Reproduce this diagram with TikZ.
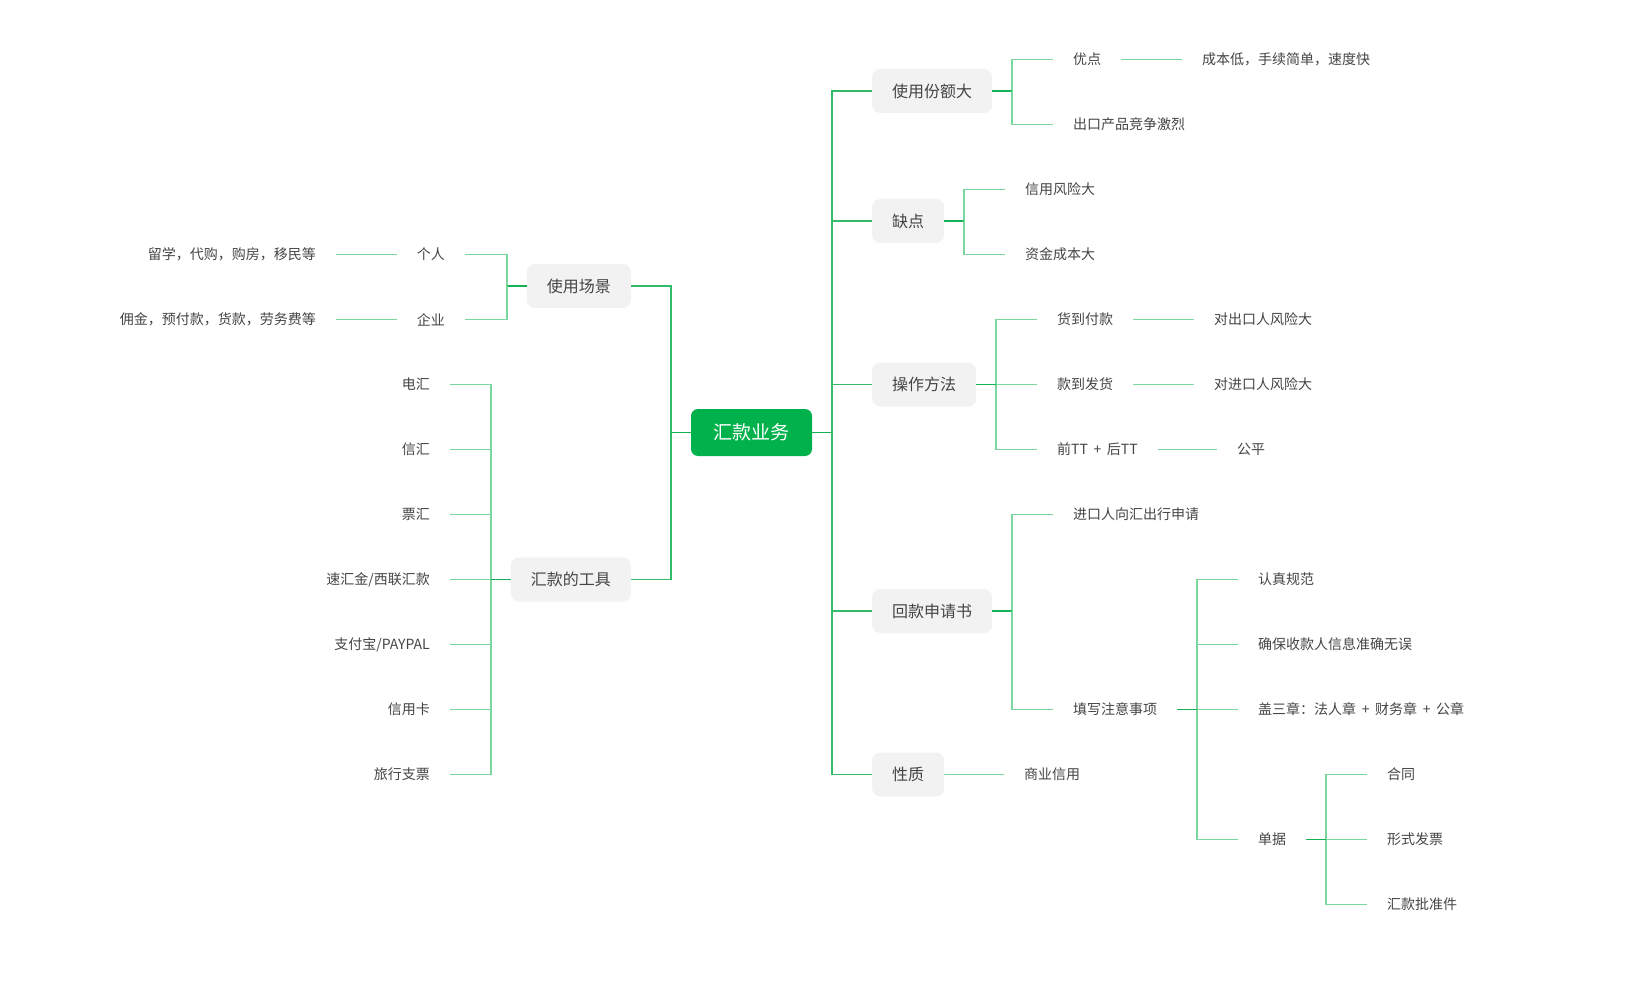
\documentclass[tikz,border=0pt]{standalone}
\usepackage{fontspec}
\setmainfont{Noto Sans CJK SC}
\usepackage{tikz}
\usetikzlibrary{calc}
\definecolor{rootgreen}{RGB}{0,177,76}
\definecolor{stemgreen}{RGB}{20,178,84}
\definecolor{trunkgreen}{RGB}{50,188,106}
\definecolor{twiggreen}{RGB}{122,214,156}
\definecolor{topicgray}{RGB}{242,242,242}
\definecolor{labeltext}{RGB}{68,68,68}
\newcommand{\plusgap}{\hspace{0.4em}+\hspace{0.4em}}
\newcommand{\leafright}[4]{%
  \node[leaf,anchor=west] (#1) at (#2,59.5+65*#3) {#4};%
}
\newcommand{\leafleft}[4]{%
  \node[leaf,anchor=east] (#1) at (#2,59.5+65*#3) {#4};%
}
\newcommand{\forkright}[3][twigline]{%
  \draw[stemline] (#2.east) -- ++(20,0);%
  \draw[#1] ($(#2.east)+(20,0)$) |- (#3.west);%
}
\newcommand{\forkleft}[3][twigline]{%
  \draw[stemline] (#2.west) -- ++(-20,0);%
  \draw[#1] ($(#2.west)+(-20,0)$) |- (#3.east);%
}

\begin{document}
\begin{tikzpicture}[x=1pt,y=-1pt,
    rootbox/.style={fill=rootgreen,rounded corners=7pt,text=white,font=\fontsize{19}{22}\selectfont,minimum width=121pt,minimum height=47pt,inner sep=0pt},
    topicbox/.style={fill=topicgray,rounded corners=8pt,text=labeltext,font=\fontsize{16}{19}\selectfont,inner xsep=20pt,inner ysep=0pt,minimum height=44pt},
    leaf/.style={text=labeltext,font=\fontsize{14}{17}\selectfont,inner xsep=20pt,inner ysep=2pt},
    stemline/.style={draw=stemgreen,line width=1.8pt},
    trunkline/.style={draw=trunkgreen,line width=1.9pt},
    twigline/.style={draw=twiggreen,line width=1.9pt}]
  \useasboundingbox (0,0) rectangle (1634,1003);
  \node[rootbox] (root) at (751.5,432.5) {汇款业务};
  \node[topicbox,anchor=west] (share) at (872,91) {使用份额大};
  \node[topicbox,anchor=west] (cons) at (872,221) {缺点};
  \node[topicbox,anchor=west] (method) at (872,384.5) {操作方法};
  \node[topicbox,anchor=west] (form) at (872,611) {回款申请书};
  \node[topicbox,anchor=west] (nature) at (872,774.5) {性质};
  \node[topicbox,anchor=east] (scene) at (631,286) {使用场景};
  \node[topicbox,anchor=east] (tools) at (631,579.5) {汇款的工具};
  \foreach \t in {share,cons,method,form,nature} \forkright[trunkline]{root}{\t};
  \foreach \t in {scene,tools} \forkleft[trunkline]{root}{\t};
  \leafright{pros}{1053}{0}{优点}
  \leafright{prosd}{1182}{0}{成本低，手续简单，速度快}
  \leafright{compet}{1053}{1}{出口产品竞争激烈}
  \forkright{share}{pros}
  \forkright{share}{compet}
  \draw[twigline] (pros.east) -- (prosd.west);
  \leafright{risk}{1005}{2}{信用风险大}
  \leafright{cost}{1005}{3}{资金成本大}
  \forkright{cons}{risk}
  \forkright{cons}{cost}
  \leafright{cod}{1037}{4}{货到付款}
  \leafright{codr}{1194}{4}{对出口人风险大}
  \leafright{cia}{1037}{5}{款到发货}
  \leafright{ciar}{1194}{5}{对进口人风险大}
  \leafright{tt}{1037}{6}{前TT\plusgap 后TT}
  \leafright{ttr}{1217}{6}{公平}
  \foreach \t in {cod,cia,tt} \forkright{method}{\t};
  \draw[twigline] (cod.east) -- (codr.west);
  \draw[twigline] (cia.east) -- (ciar.west);
  \draw[twigline] (tt.east) -- (ttr.west);
  \leafright{apply}{1053}{7}{进口人向汇出行申请}
  \leafright{notes}{1053}{10}{填写注意事项}
  \forkright{form}{apply}
  \forkright{form}{notes}
  \leafright{norm}{1238}{8}{认真规范}
  \leafright{check}{1238}{9}{确保收款人信息准确无误}
  \leafright{seal}{1238}{10}{盖三章：法人章\plusgap 财务章\plusgap 公章}
  \leafright{docs}{1238}{12}{单据}
  \foreach \t in {norm,check,seal,docs} \forkright{notes}{\t};
  \leafright{contract}{1367}{11}{合同}
  \leafright{invoice}{1367}{12}{形式发票}
  \leafright{permit}{1367}{13}{汇款批准件}
  \foreach \t in {contract,invoice,permit} \forkright{docs}{\t};
  \leafright{credit}{1004}{11}{商业信用}
  \draw[twigline] (nature.east) -- (credit.west);
  \leafleft{person}{465}{3}{个人}
  \leafleft{firm}{465}{4}{企业}
  \leafleft{persond}{336}{3}{留学，代购，购房，移民等}
  \leafleft{firmd}{336}{4}{佣金，预付款，货款，劳务费等}
  \forkleft{scene}{person}
  \forkleft{scene}{firm}
  \draw[twigline] (person.west) -- (persond.east);
  \draw[twigline] (firm.west) -- (firmd.east);
  \foreach \tname [count=\k from 5] in {电汇,信汇,票汇,速汇金/西联汇款,支付宝/PAYPAL,信用卡,旅行支票}{
    \leafleft{tool\k}{450}{\k}{\tname}
    \forkleft{tools}{tool\k}
  }
\end{tikzpicture}
\end{document}
